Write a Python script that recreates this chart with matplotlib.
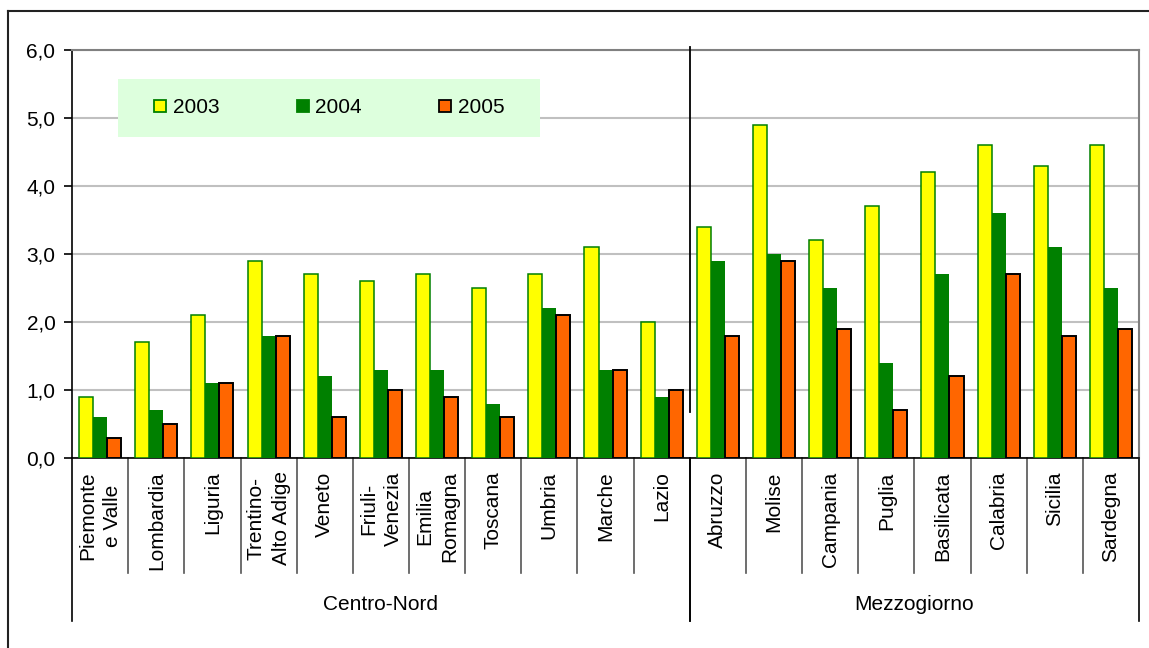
# -*- coding: utf-8 -*-
import matplotlib
matplotlib.use('Agg')
import matplotlib.pyplot as plt
import numpy as np
from matplotlib.lines import Line2D
from matplotlib.patches import Rectangle
from matplotlib.ticker import FuncFormatter

plt.rcParams['font.family'] = ['Liberation Sans', 'DejaVu Sans']

# _____________________________________________________________________________
#                           Dati
# _____________________________________________________________________________

regioni = [
    'Piemonte\ne Valle', 'Lombardia', 'Liguria', 'Trentino-\nAlto Adige',
    'Veneto', 'Friuli-\nVenezia', 'Emilia\nRomagna', 'Toscana', 'Umbria',
    'Marche', 'Lazio', 'Abruzzo', 'Molise', 'Campania', 'Puglia',
    'Basilicata', 'Calabria', 'Sicilia', 'Sardegna']

gruppi = ['Centro-Nord', 'Mezzogiorno']
n_gruppo = [11, 8]

anni = ['2003', '2004', '2005']
v2003 = [0.9, 1.7, 2.1, 2.9, 2.7, 2.6, 2.7, 2.5, 2.7, 3.1, 2.0,
         3.4, 4.9, 3.2, 3.7, 4.2, 4.6, 4.3, 4.6]
v2004 = [0.6, 0.7, 1.1, 1.8, 1.2, 1.3, 1.3, 0.8, 2.2, 1.3, 0.9,
         2.9, 3.0, 2.5, 1.4, 2.7, 3.6, 3.1, 2.5]
v2005 = [0.3, 0.5, 1.1, 1.8, 0.6, 1.0, 0.9, 0.6, 2.1, 1.3, 1.0,
         1.8, 2.9, 1.9, 0.7, 1.2, 2.7, 1.8, 1.9]

# _____________________________________________________________________________
#                           Grafico
# _____________________________________________________________________________

colori = ['#FFFF00', '#008000', '#FF6600']
bordi = ['#008000', '#008000', '#000000']
spess = [1.1, 0.0, 1.4]
FS = 15

fig = plt.figure(figsize=(11.49, 6.48), dpi=100)
ax = fig.add_axes([0.0627, 0.2932, 0.9286, 0.6296])

x = np.arange(len(regioni))
w = 0.25
for k, (vals, c, e, lw) in enumerate(zip([v2003, v2004, v2005],
                                         colori, bordi, spess)):
    ax.bar(x + (k - 1) * w, vals, width=w, color=c, edgecolor=e,
           linewidth=lw, zorder=3)

ax.set_xlim(-0.5, len(regioni) - 0.5)
ax.set_ylim(0, 6)
ax.set_yticks(np.arange(0, 6.1, 1))
ax.yaxis.set_major_formatter(
    FuncFormatter(lambda v, p: '{:.1f}'.format(v).replace('.', ',')))
ax.tick_params(axis='y', direction='out', length=6, width=1.2,
               labelsize=FS, pad=6)
ax.tick_params(axis='x', bottom=False, labelbottom=False)
ax.grid(axis='y', color='#C0C0C0', linewidth=1.5, zorder=0)
ax.set_axisbelow(True)

for s in ['top', 'right']:
    ax.spines[s].set_color('#808080')
    ax.spines[s].set_linewidth(1.5)
for s in ['left', 'bottom']:
    ax.spines[s].set_color('black')
    ax.spines[s].set_linewidth(1.2)

# linea separatrice Centro-Nord / Mezzogiorno
sep = n_gruppo[0] - 0.5
ax.plot([sep, sep], [0.68, 6.05], color='black', linewidth=1.3,
        clip_on=False, zorder=4)

# etichette categorie (asse x a due livelli)
trans = ax.get_xaxis_transform()
for i, r in enumerate(regioni):
    ax.text(i, -0.033, r, transform=trans, rotation=90, ha='center',
            va='top', fontsize=FS, multialignment='center',
            linespacing=1.4)

for b in np.arange(0.5, len(regioni) - 1, 1):
    if b == sep:
        continue
    ax.add_line(Line2D([b, b], [0, -0.282], transform=trans,
                       color='#555555', linewidth=1.2, clip_on=False))

inizio = -0.5
for g, n in zip(gruppi, n_gruppo):
    fine = inizio + n
    for b in [inizio, fine]:
        ax.add_line(Line2D([b, b], [0, -0.40], transform=trans,
                           color='black', linewidth=1.2, clip_on=False))
    ax.text((inizio + fine) / 2, -0.36, g, transform=trans,
            ha='center', va='center', fontsize=FS)
    inizio = fine

# legenda: sfondo verde chiaro + voci centrate
ax.add_patch(Rectangle((0.0431, 0.787), 0.3955, 0.142,
                       transform=ax.transAxes, facecolor='#DDFFDD',
                       edgecolor='none', zorder=5))
handles = [Line2D([], [], linestyle='none', marker='s', markersize=9,
                  markerfacecolor=c, markeredgecolor=e, markeredgewidth=1.3)
           for c, e in zip(colori, ['#008000', '#008000', '#000000'])]
leg = ax.legend(handles, anni, loc='center',
                bbox_to_anchor=(0.0431 + 0.3955 / 2, 0.787 + 0.071),
                ncol=3, fontsize=FS, frameon=False, borderaxespad=0,
                handlelength=0.6, handletextpad=0.3, columnspacing=3.7)
leg.set_zorder(6)

# cornice esterna
fig.add_artist(Line2D([0.007, 0.007], [0, 0.983], transform=fig.transFigure,
                      color='#222222', linewidth=1.5))
fig.add_artist(Line2D([0.007, 1.0], [0.983, 0.983], transform=fig.transFigure,
                      color='#222222', linewidth=1.5))

fig.savefig('out.png', dpi=100)
